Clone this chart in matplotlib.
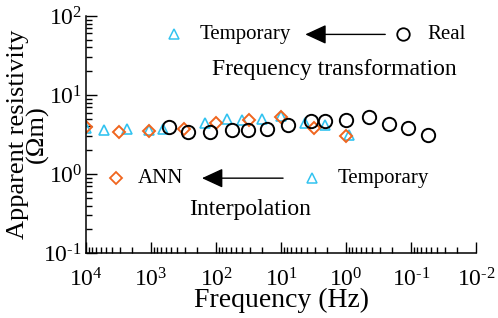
import numpy as np
import matplotlib
matplotlib.use("Agg")
import matplotlib.pyplot as plt
from matplotlib.ticker import LogLocator, NullFormatter, FuncFormatter

# data
real_f = [525, 270, 124, 57, 32, 16.6, 7.8, 3.5, 2.1, 1.0, 0.45, 0.22, 0.11, 0.055]
real_rho = [3.9, 3.37, 3.37, 3.6, 3.6, 3.71, 4.17, 4.73, 4.73, 4.83, 5.22, 4.3, 3.79, 3.12]

temp_f = [10000, 5300, 2360, 1070, 650, 148, 69, 40, 20, 10, 4.3, 2.1, 0.9]
temp_rho = [3.8, 3.6, 3.68, 3.6, 3.68, 4.38, 4.9, 4.83, 4.9, 5.47, 4.46, 4.17, 3.1]

ann_f = [10000, 3160, 1070, 316, 100, 31.6, 10, 3.16, 1.0]
ann_rho = [3.9, 3.43, 3.53, 3.68, 4.38, 4.83, 5.31, 3.79, 3.05]

cyan = "#33C3F0"
orange = "#F0651E"

plt.rcParams["font.family"] = ["Liberation Serif", "DejaVu Serif"]
plt.rcParams["mathtext.fontset"] = "custom"
plt.rcParams["mathtext.rm"] = "Liberation Serif"
plt.rcParams["mathtext.it"] = "Liberation Serif:italic"


def pow10(v, pos):
    e = int(round(np.log10(v)))
    if e < 0:
        return r"$\mathrm{10}^{\text{-}%d}$" % (-e)
    return r"$\mathrm{10}^{\mathrm{%d}}$" % e


fig = plt.figure(figsize=(4.98, 3.18), dpi=100)
ax = fig.add_axes([0.173, 0.204, 0.783, 0.746])

ax.plot(temp_f, temp_rho, "^", ms=7.9, mfc="none", mec=cyan, mew=1.2, ls="none")
ax.plot(ann_f, ann_rho, "D", ms=6.5, mfc="none", mec=orange, mew=1.4, ls="none")
ax.plot(real_f, real_rho, "o", ms=9.6, mfc="none", mec="black", mew=1.4, ls="none")

ax.set_xscale("log")
ax.set_yscale("log")
ax.set_xlim(1e4, 1e-2)
ax.set_ylim(1e-1, 1e2)
for a in (ax.xaxis, ax.yaxis):
    a.set_major_locator(LogLocator(base=10, numticks=20))
    a.set_minor_locator(LogLocator(base=10, subs=np.arange(2, 10), numticks=20))
    a.set_minor_formatter(NullFormatter())
    a.set_major_formatter(FuncFormatter(pow10))

for s in ["top", "right"]:
    ax.spines[s].set_visible(False)
for s in ["left", "bottom"]:
    ax.spines[s].set_linewidth(1.1)

ax.tick_params(which="both", direction="in", labelsize=17, width=1.0)
ax.tick_params(which="major", length=8)
ax.tick_params(which="minor", length=4)
ax.tick_params(axis="x", pad=11)
ax.tick_params(axis="y", pad=3)

ax.set_xlabel("Frequency (Hz)", fontsize=20, labelpad=-3)
ax.set_ylabel("Apparent resistivity\n(Ωm)", fontsize=19, linespacing=0.85)
ax.yaxis.set_label_coords(-0.095, 0.5)

# annotations
tr = ax.transAxes
ax.plot([0.226], [0.922], "^", transform=tr, ms=7.9, mfc="none", mec=cyan, mew=1.1, clip_on=False)
ax.text(0.29, 0.922, "Temporary", transform=tr, fontsize=15, va="center", ha="left")
ax.annotate("", xy=(0.562, 0.922), xytext=(0.767, 0.922), xycoords=tr, textcoords=tr,
            arrowprops=dict(arrowstyle="-|>,head_length=0.65,head_width=0.3",
                            mutation_scale=20, lw=1.0, color="black", shrinkA=0, shrinkB=0))
ax.plot([0.813], [0.922], "o", transform=tr, ms=9, mfc="none", mec="black", mew=1.3, clip_on=False)
ax.text(0.874, 0.922, "Real", transform=tr, fontsize=15, va="center", ha="left")
ax.text(0.636, 0.775, "Frequency transformation", transform=tr, fontsize=17, va="center", ha="center")

ax.plot([0.077], [0.316], "D", transform=tr, ms=6.3, mfc="none", mec=orange, mew=1.3, clip_on=False)
ax.text(0.133, 0.316, "ANN", transform=tr, fontsize=15, va="center", ha="left")
ax.annotate("", xy=(0.297, 0.316), xytext=(0.505, 0.316), xycoords=tr, textcoords=tr,
            arrowprops=dict(arrowstyle="-|>,head_length=0.65,head_width=0.3",
                            mutation_scale=20, lw=1.0, color="black", shrinkA=0, shrinkB=0))
ax.plot([0.579], [0.316], "^", transform=tr, ms=7.9, mfc="none", mec=cyan, mew=1.1, clip_on=False)
ax.text(0.644, 0.316, "Temporary", transform=tr, fontsize=15, va="center", ha="left")
ax.text(0.42, 0.183, "Interpolation", transform=tr, fontsize=17, va="center", ha="center")

fig.savefig("out.png", dpi=100)
